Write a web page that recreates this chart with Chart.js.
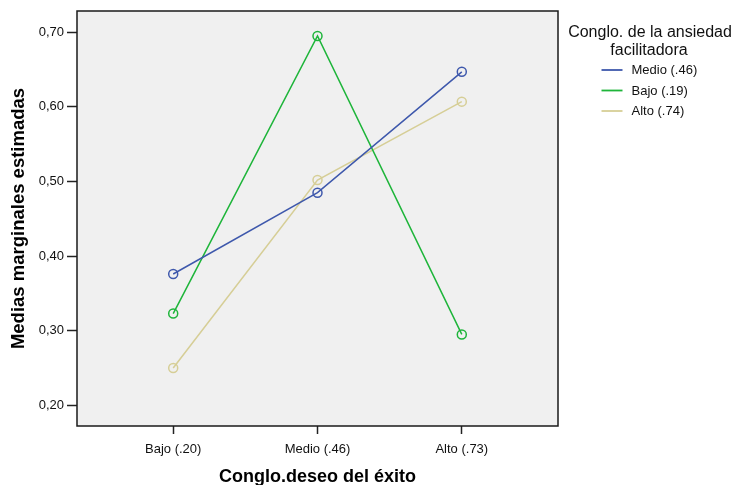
<!DOCTYPE html>
<html>
<head>
<meta charset="utf-8">
<script src="https://cdn.jsdelivr.net/npm/chart.js@4"></script>
<style>
  html, body { margin: 0; padding: 0; background: #ffffff; }
  #wrap { width: 737px; height: 485px; }
</style>
</head>
<body>
<div id="wrap"><canvas id="c" width="737" height="485"></canvas></div>
<script>
const categories = ['Bajo (.20)', 'Medio (.46)', 'Alto (.73)'];
const seriesLabels = ['Medio (.46)', 'Bajo (.19)', 'Alto (.74)'];
const medioValues = [0.376, 0.485, 0.647];
const bajoValues = [0.323, 0.695, 0.295];
const altoValues = [0.250, 0.502, 0.607];
const yTickValues = [0.2, 0.3, 0.4, 0.5, 0.6, 0.7];
const legendTitle = ['Conglo. de la ansiedad', 'facilitadora'];
const xTitle = 'Conglo.deseo del éxito';
const yTitle = 'Medias marginales estimadas';

const colors = ['#3e58ac', '#1eb53a', '#d6ce96'];
const FONT = "'Liberation Sans', Arial, sans-serif";
Chart.defaults.font.family = FONT;

function toPoints(vals) { return vals.map((v, i) => ({ x: i, y: v })); }

const seriesValues = [medioValues, bajoValues, altoValues];
const datasets = seriesValues.map((vals, i) => ({
  label: seriesLabels[i],
  data: toPoints(vals),
  borderColor: colors[i],
  backgroundColor: colors[i],
  borderWidth: 1.5,
  pointRadius: 4.5,
  pointBorderWidth: 1.5,
  pointBackgroundColor: 'rgba(0,0,0,0)',
  pointBorderColor: colors[i],
  tension: 0
}));

const framePlugin = {
  id: 'frame',
  beforeDraw(chart) {
    const { ctx, chartArea: a } = chart;
    ctx.save();
    ctx.fillStyle = '#f0f0f0';
    ctx.fillRect(a.left, a.top, a.right - a.left, a.bottom - a.top);
    ctx.restore();
  },
  afterDraw(chart) {
    const { ctx, chartArea: a } = chart;
    ctx.save();
    ctx.strokeStyle = '#1a1a1a';
    ctx.lineWidth = 1.5;
    ctx.strokeRect(a.left, a.top, a.right - a.left, a.bottom - a.top);
    // legend
    ctx.fillStyle = '#111111';
    ctx.font = '16px ' + FONT;
    ctx.textAlign = 'center';
    ctx.textBaseline = 'alphabetic';
    ctx.fillText(legendTitle[0], 650, 36.5);
    ctx.fillText(legendTitle[1], 649, 55);
    ctx.font = '13px ' + FONT;
    ctx.textAlign = 'left';
    ctx.textBaseline = 'middle';
    const ys = [70, 90.5, 111];
    chart.data.datasets.forEach((ds, i) => {
      ctx.strokeStyle = ds.borderColor;
      ctx.lineWidth = 1.8;
      ctx.beginPath();
      ctx.moveTo(601.5, ys[i]);
      ctx.lineTo(622.5, ys[i]);
      ctx.stroke();
      ctx.fillStyle = '#111111';
      ctx.fillText(ds.label, 631.5, ys[i] + 0.5);
    });
    ctx.restore();
  }
};

new Chart(document.getElementById('c'), {
  type: 'line',
  data: { datasets },
  plugins: [framePlugin],
  options: {
    responsive: false,
    animation: false,
    devicePixelRatio: 1,
    layout: { padding: { top: 11, right: 179, left: 0, bottom: 0 } },
    plugins: { legend: { display: false }, tooltip: { enabled: false } },
    scales: {
      x: {
        type: 'linear',
        min: -0.6667,
        max: 2.6667,
        afterBuildTicks(scale) { scale.ticks = categories.map((c, i) => ({ value: i })); },
        afterFit(scale) { scale.height = 59; },
        ticks: {
          callback: (v) => categories[v],
          color: '#111111',
          font: { size: 13 },
          padding: 8,
          maxRotation: 0,
          autoSkip: false
        },
        grid: { drawOnChartArea: false, drawTicks: true, tickLength: 8, tickColor: '#222222', tickWidth: 1.5 },
        border: { display: false },
        title: { display: true, text: xTitle, color: '#000000', font: { size: 18, weight: 'bold', lineHeight: 1 }, padding: { top: 0, bottom: -1 } }
      },
      y: {
        type: 'linear',
        min: 0.1723,
        max: 0.7285,
        afterBuildTicks(scale) { scale.ticks = yTickValues.map(v => ({ value: v })); },
        afterFit(scale) { scale.width = 77; },
        ticks: {
          callback: (v) => v.toFixed(2).replace('.', ','),
          color: '#111111',
          font: { size: 13 },
          padding: 3
        },
        grid: { drawOnChartArea: false, drawTicks: true, tickLength: 10, tickColor: '#222222', tickWidth: 1.5 },
        border: { display: false },
        title: { display: true, text: yTitle, color: '#000000', font: { size: 18.5, weight: 'bold', lineHeight: 1.2 }, padding: { top: 8, bottom: 0 } }
      }
    }
  }
});
</script>
</body>
</html>
